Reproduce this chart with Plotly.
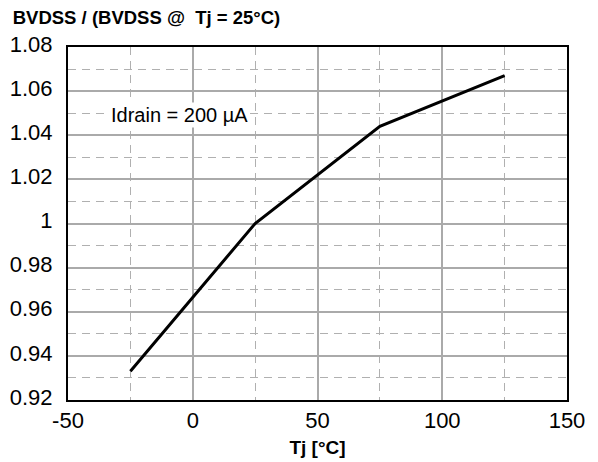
import plotly.graph_objects as go

tj = [-25, 25, 75, 125]
ratio = [0.933, 1.0, 1.044, 1.067]

x_ticks = [-50, 0, 50, 100, 150]
x_ticklabels = ["-50", "0", "50", "100", "150"]
x_minor = [-25, 25, 75, 125]
y_ticks = [0.92, 0.94, 0.96, 0.98, 1.0, 1.02, 1.04, 1.06, 1.08]
y_ticklabels = ["0.92", "0.94", "0.96", "0.98", "1", "1.02", "1.04", "1.06", "1.08"]
y_minor = [0.93, 0.95, 0.97, 0.99, 1.01, 1.03, 1.05, 1.07]

FONT = "Liberation Sans, Arial, sans-serif"

fig = go.Figure()
fig.add_trace(go.Scatter(x=tj, y=ratio, mode="lines",
                         line=dict(color="black", width=3), showlegend=False))

fig.add_annotation(x=-5.5, y=1.0492, text="Idrain = 200 µA", showarrow=False,
                   xref="x", yref="y", bgcolor="white", borderpad=1,
                   font=dict(family=FONT, size=20, color="black"))

fig.update_layout(
    width=590, height=454,
    margin=dict(l=60, r=31, t=39, b=62, autoexpand=False),
    paper_bgcolor="white", plot_bgcolor="white",
    title=dict(text="<b>BVDSS / (BVDSS @&nbsp; Tj = 25°C)</b>", x=0.008, xanchor="left",
               y=0.979, yanchor="middle",
               font=dict(family=FONT, size=18.5, color="black")),
    font=dict(family=FONT, color="black"),
)
fig.update_xaxes(
    range=[-50, 150], tickvals=x_ticks, ticktext=x_ticklabels,
    tickfont=dict(size=22), ticks="", ticklabelstandoff=0,
    showgrid=True, gridcolor="#aaaaaa", gridwidth=1.5,
    showline=True, linecolor="black", linewidth=2, mirror=True,
    zeroline=False, automargin=False,
    minor=dict(tickvals=x_minor, showgrid=True, gridcolor="#b0b0b0",
               gridwidth=1.3, griddash="8px,6px", ticks=""),
    title=dict(text="<b>Tj [°C]</b>", font=dict(size=19), standoff=8),
)
fig.update_yaxes(
    range=[0.92, 1.08], tickvals=y_ticks, ticktext=y_ticklabels,
    tickfont=dict(size=22), ticks="", ticklabelstandoff=9, ticklabelshift=-3,
    showgrid=True, gridcolor="#aaaaaa", gridwidth=1.5,
    showline=True, linecolor="black", linewidth=2, mirror=True,
    zeroline=False, automargin=False,
    minor=dict(tickvals=y_minor, showgrid=True, gridcolor="#b0b0b0",
               gridwidth=1.3, griddash="8px,6px", ticks=""),
)

fig.write_html("out.html")
